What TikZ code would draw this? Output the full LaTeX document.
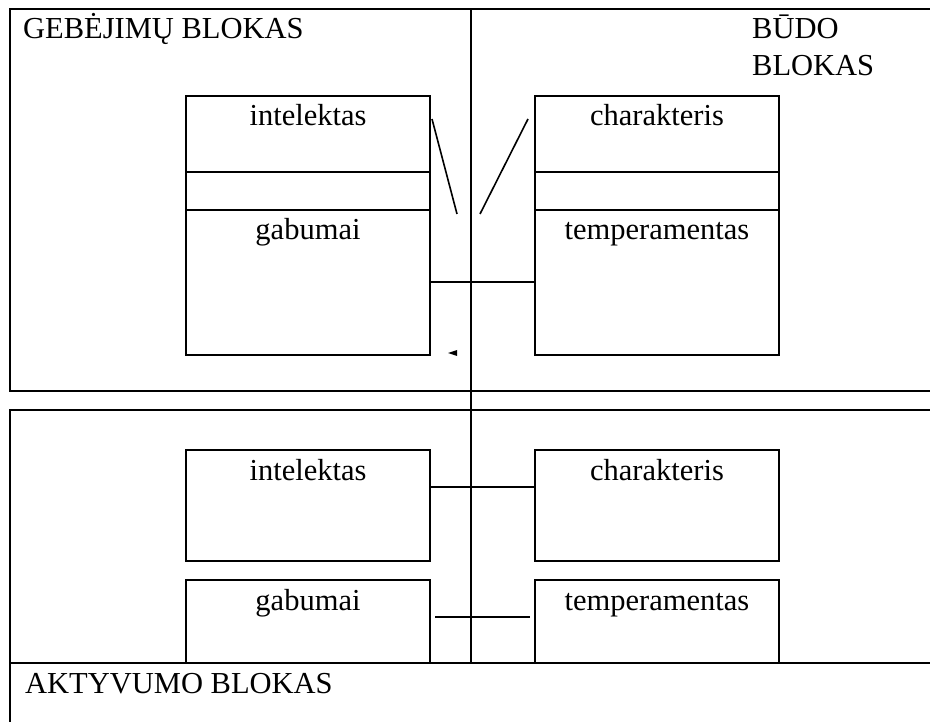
\documentclass[tikz,border=0pt]{standalone}
\usepackage{fontspec}
\setmainfont{Liberation Serif}
\usetikzlibrary{positioning}
\tikzset{
  frame/.style={line width=2pt},
  part/.style={draw, line width=2pt, anchor=north west, minimum width=244pt, inner sep=0pt, outer sep=0pt},
  lbl/.style={anchor=base, inner sep=0pt, yshift=-30pt},
  title/.style={anchor=base west, inner sep=0pt, align=left}
}
\begin{document}
\begin{tikzpicture}[x=1pt,y=-1pt,font=\fontsize{30.5pt}{37pt}\selectfont]
\useasboundingbox (0,0) rectangle (930,722);
% blokai
\draw[frame](930,9)--(10,9)--(10,391)--(930,391);
\draw[frame](930,410)--(10,410)--(10,722);
\draw[frame](10,663)--(930,663);
\draw[frame](471,9)--(471,663);
\node[title] (geb) at (23,39) {GEBĖJIMŲ BLOKAS};
\node[title] (bud) at (752,76) {BŪDO\\BLOKAS};
\node[title] (akt) at (25,693) {AKTYVUMO BLOKAS};
% virsutines dezutes
\node[part, minimum height=76pt, label={[lbl]north:intelektas}] (intA) at (186,96) {};
\node[part, minimum height=38pt] (tarpA) at (186,172) {};
\node[part, minimum height=145pt, label={[lbl]north:gabumai}] (gabA) at (186,210) {};
\node[part, minimum height=76pt, label={[lbl]north:charakteris}] (charA) at (535,96) {};
\node[part, minimum height=38pt] (tarpB) at (535,172) {};
\node[part, minimum height=145pt, label={[lbl]north:temperamentas}] (tempA) at (535,210) {};
\draw[frame](gabA)--(tempA);
\draw[line width=1.6pt](432,119)--(457,214);
\draw[line width=1.6pt](528,119)--(480,214);
\fill(448,353)--(457,350)--(457,356)--cycle;
% apatines dezutes
\node[part, minimum height=111pt, label={[lbl]north:intelektas}] (intB) at (186,450) {};
\node[part, minimum height=83pt, label={[lbl]north:gabumai}] (gabB) at (186,580) {};
\node[part, minimum height=111pt, label={[lbl]north:charakteris}] (charB) at (535,450) {};
\node[part, minimum height=83pt, label={[lbl]north:temperamentas}] (tempB) at (535,580) {};
\coordinate (m1) at (0,487);
\draw[frame](intB.east |- m1)--(charB.west |- m1);
\coordinate (c1) at (435,617);
\coordinate (c2) at (530,617);
\draw[frame](c1)--(c2);
\end{tikzpicture}
\end{document}
